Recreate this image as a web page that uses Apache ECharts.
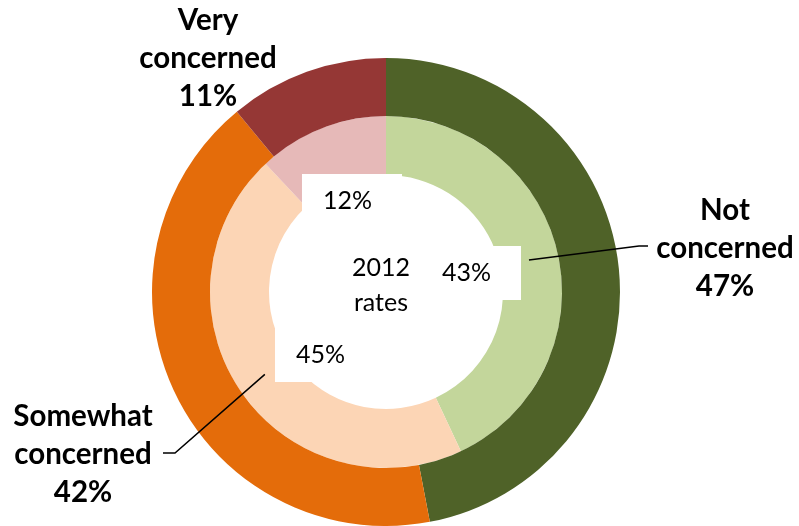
<!DOCTYPE html>
<html>
<head>
<meta charset="utf-8">
<script src="https://cdn.jsdelivr.net/npm/echarts@6/dist/echarts.min.js"></script>
<style>
  html, body { margin: 0; padding: 0; background: #fff; }
  #chart { width: 799px; height: 526px; }
</style>
</head>
<body>
<div id="chart"></div>
<script>
// Concern levels, outer ring and inner ring shares (%)
var categories = ['Not concerned', 'Somewhat concerned', 'Very concerned'];
var outerValues = [47, 42, 11];
var innerValues = [43, 45, 12];
var centerText = '2012\nrates';

// Colours
var outerColors = ['#4F6228', '#E46C0A', '#953735'];
var innerColors = ['#C3D69B', '#FCD5B5', '#E6B9B8'];

// Geometry
var CX = 386, CY = 292;
var R_IN0 = 117, R_IN1 = 176, R_OUT1 = 234;

// Label placement (box centres) and leader-line elbows
var innerLabelPos = [[471, 273], [325, 355], [352, 201]];
var outerLabelPos = [[725, 248], [83, 454], [208, 58]];
var leaderElbows = [[[639, 246], [648, 246]], [[175, 453], [163, 453]], null];

var FONT = 'Lato, "Open Sans", sans-serif';

// Midpoint of an inner-ring slice (clockwise from 12 o'clock)
function innerMid(i) {
  var total = innerValues.reduce(function (a, b) { return a + b; }, 0);
  var before = 0;
  for (var k = 0; k < i; k++) before += innerValues[k];
  var a = (90 - (before + innerValues[i] / 2) / total * 360) * Math.PI / 180;
  var r = (R_IN0 + R_IN1) / 2;
  return [CX + r * Math.cos(a), CY - r * Math.sin(a)];
}

// Leader lines from the inner-slice midpoints out to the outer labels
var leaderGraphics = [];
leaderElbows.forEach(function (elbow, i) {
  if (!elbow) return;
  leaderGraphics.push({
    type: 'polyline',
    z: 100,
    silent: true,
    shape: { points: [innerMid(i), elbow[0], elbow[1]] },
    style: { stroke: '#000', lineWidth: 1.5, fill: null }
  });
});

var chart = echarts.init(document.getElementById('chart'), null, { renderer: 'canvas' });

chart.setOption({
  animation: false,
  backgroundColor: '#fff',
  graphic: leaderGraphics.concat([{
    type: 'text',
    x: 381, y: 285,
    z: 100,
    style: {
      text: centerText,
      font: '25px ' + FONT,
      fill: '#000',
      align: 'center',
      verticalAlign: 'middle',
      textAlign: 'center',
      textVerticalAlign: 'middle',
      lineHeight: 35
    }
  }]),
  series: [
    {
      type: 'pie',
      name: 'inner',
      center: [CX, CY],
      radius: [R_IN0, R_IN1],
      startAngle: 90,
      clockwise: true,
      silent: true,
      itemStyle: { borderWidth: 0 },
      label: {
        show: true,
        position: 'inside',
        formatter: '{c}%',
        color: '#000',
        fontFamily: FONT,
        fontSize: 25,
        lineHeight: 28,
        backgroundColor: '#fff',
        padding: [15, 30, 11, 21]
      },
      labelLine: { show: false },
      labelLayout: function (p) {
        var pos = innerLabelPos[p.dataIndex];
        return { x: pos[0], y: pos[1], align: 'center', verticalAlign: 'middle' };
      },
      data: categories.map(function (c, i) {
        return { name: c, value: innerValues[i], itemStyle: { color: innerColors[i] } };
      })
    },
    {
      type: 'pie',
      name: 'outer',
      center: [CX, CY],
      radius: [R_IN1, R_OUT1],
      startAngle: 90,
      clockwise: true,
      silent: true,
      itemStyle: { borderWidth: 0 },
      label: {
        show: true,
        position: 'outside',
        overflow: 'none',
        formatter: function (p) { return p.name.replace(' ', '\n') + '\n' + p.value + '%'; },
        color: '#000',
        fontFamily: FONT,
        fontWeight: 'bold',
        fontSize: 29.5,
        lineHeight: 38,
        align: 'center'
      },
      labelLine: { show: false },
      labelLayout: function (p) {
        var pos = outerLabelPos[p.dataIndex];
        return { x: pos[0], y: pos[1], align: 'center', verticalAlign: 'middle' };
      },
      data: categories.map(function (c, i) {
        return { name: c, value: outerValues[i], itemStyle: { color: outerColors[i] } };
      })
    }
  ]
});
</script>
</body>
</html>
